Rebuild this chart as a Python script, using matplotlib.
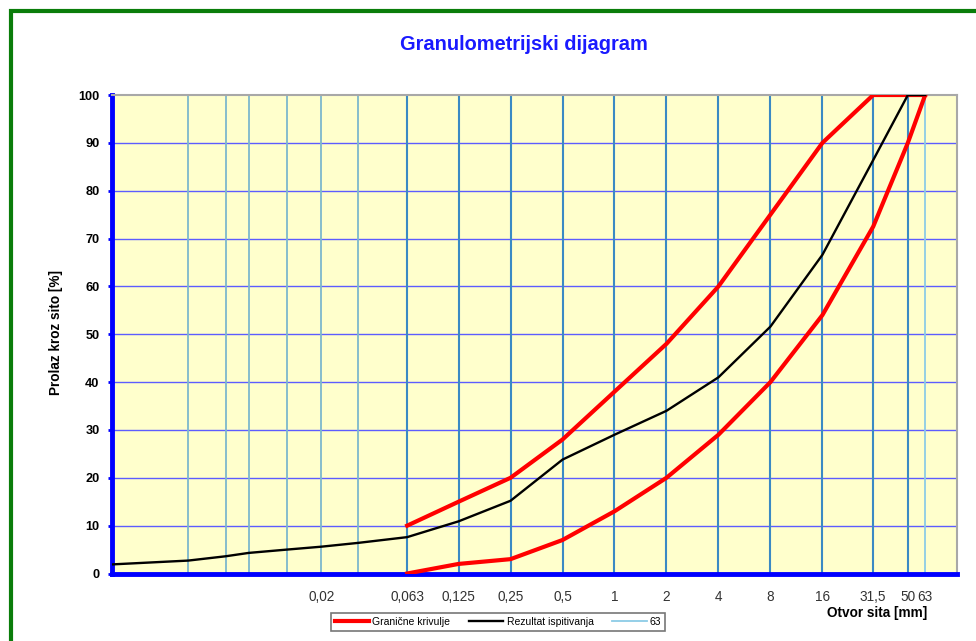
"""
Granulometrijski dijagram — granične krivulje + rezultat ispitivanja
"""
import numpy as np
import matplotlib
matplotlib.use('Agg')
import matplotlib.pyplot as plt
from matplotlib.patches import Rectangle

plt.rcParams['font.family'] = ['Liberation Sans', 'DejaVu Sans']

# otvori sita [mm] i granice
sita = [0.063, 0.125, 0.25, 0.5, 1, 2, 4, 8, 16, 31.5, 50, 63]
sita_labels = ['0,063', '0,125', '0,25', '0,5', '1', '2', '4', '8', '16', '31,5', '50', '63']
gornja = [10, 15, 20, 28, 38, 48, 60, 75, 90, 100, 100, 100]
donja = [0, 2, 3, 7, 13, 20, 29, 40, 54, 72.5, 90, 100]

# rezultat ispitivanja (areometrija + sijanje)
rez_x = [0.00123, 0.0034, 0.0056, 0.0076, 0.0127, 0.02, 0.0328,
         0.063, 0.125, 0.25, 0.5, 1, 2, 4, 8, 16, 31.5, 50, 63]
rez_y = [1.9, 2.7, 3.6, 4.3, 5.0, 5.6, 6.4,
         7.6, 10.9, 15.2, 23.8, 29, 34, 41, 51.6, 66.6, 86.4, 100, 100]

# tanke linije mreže u području areometrije
fine_x = [0.0034, 0.0056, 0.0076, 0.0127, 0.02, 0.0328]

fig = plt.figure(figsize=(9.76, 6.41), dpi=100)
ax = fig.add_axes([112 / 976, 1 - 573.5 / 641, 845 / 976, 478.5 / 641])
ax.set_facecolor('#ffffcc')

# zeleni okvir
fig.patches.append(Rectangle((11 / 976, -0.1), 1.2, 1 - 11 / 641 + 0.1,
                             transform=fig.transFigure, fill=False,
                             edgecolor='#0a7d0a', linewidth=3, zorder=0))

ax.set_xscale('log')
ax.set_xlim(0.00123, 96.3)
ax.set_ylim(0, 100)

for y in range(10, 100, 10):
    ax.axhline(y, color='#5c5cff', linewidth=1, zorder=1)
for x in fine_x:
    ax.axvline(x, color='#7db8cc', linewidth=1.3, zorder=1)
for x in sita[:-1]:
    ax.axvline(x, color='#3a8ac4', linewidth=1.5, zorder=1)

ax.plot([63, 63], [0, 100], color='#8ccbe6', linewidth=1.3, label='63', zorder=2)
ax.plot(sita, gornja, color='#ff0000', linewidth=3, label='Granične krivulje', zorder=3)
ax.plot(sita, donja, color='#ff0000', linewidth=3, zorder=3)
ax.plot(rez_x, rez_y, color='black', linewidth=1.7, label='Rezultat ispitivanja', zorder=4)

ax.set_xticks([0.02] + sita)
ax.set_xticklabels(['0,02'] + sita_labels)
ax.xaxis.set_minor_locator(matplotlib.ticker.NullLocator())
ax.tick_params(axis='x', length=0, pad=12, labelsize=9.8, labelcolor='#333333')
ax.set_yticks(range(0, 101, 10))
ax.tick_params(axis='y', length=3, width=2, color='blue', pad=6, labelsize=9.2)
for lab in ax.get_yticklabels():
    lab.set_fontweight('bold')

for side in ['left', 'bottom']:
    ax.spines[side].set_color('#0000ff')
    ax.spines[side].set_linewidth(3.5)
for side in ['top', 'right']:
    ax.spines[side].set_color('#a8a8a8')
    ax.spines[side].set_linewidth(1.5)

fig.text(524 / 976, 1 - 44 / 641, 'Granulometrijski dijagram', ha='center', va='center',
         fontsize=14.4, fontweight='bold', color='#1a1aff')
fig.text(56 / 976, 1 - 332 / 641, 'Prolaz kroz sito [%]', rotation=90, ha='center',
         va='center', fontsize=9.8, fontweight='bold')
fig.text(877 / 976, 1 - 613 / 641, 'Otvor sita [mm]', ha='center', va='center',
         fontsize=9.8, fontweight='bold')

handles, labels = ax.get_legend_handles_labels()
order = [1, 2, 0]
leg = fig.legend([handles[i] for i in order], [labels[i] for i in order],
                 loc='center', bbox_to_anchor=(498 / 976, 1 - 622 / 641), ncol=3,
                 fontsize=7.5, frameon=True, fancybox=False, edgecolor='#555555',
                 handlelength=3.3, handletextpad=0.3, columnspacing=1.8,
                 borderpad=0.4, borderaxespad=0)
leg.get_frame().set_linewidth(1.2)

plt.savefig('out.png', dpi=100)
plt.close()
